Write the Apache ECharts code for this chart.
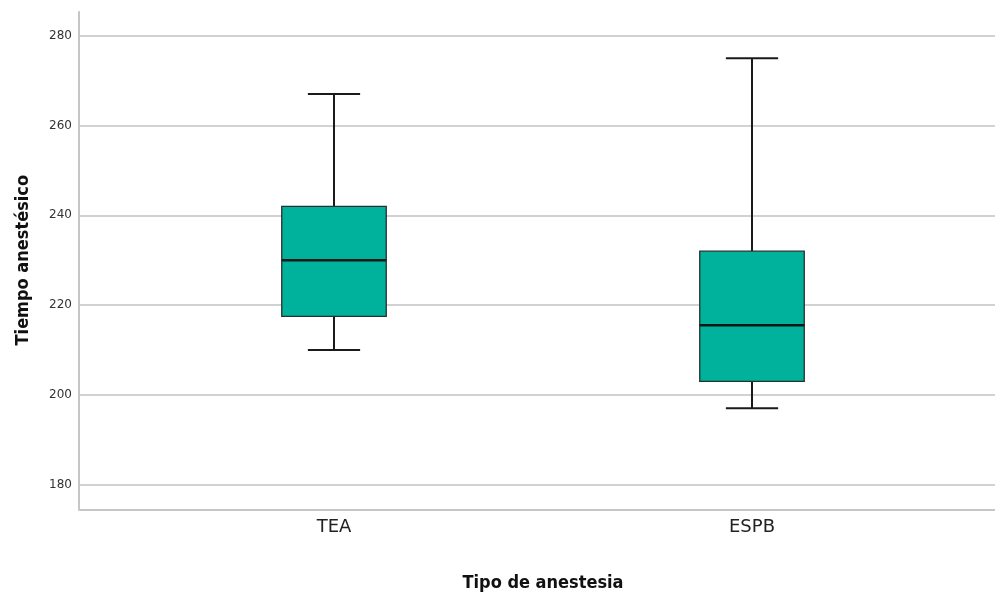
<!DOCTYPE html>
<html>
<head>
<meta charset="utf-8">
<script src="https://cdn.jsdelivr.net/npm/echarts@6/dist/echarts.min.js"></script>
<style>
html,body{margin:0;padding:0;background:#fff;}
#chart{width:995px;height:594px;}
</style>
</head>
<body>
<div id="chart"></div>
<script>
var categories = ['TEA', 'ESPB'];
var minVals    = [210, 197];
var q1Vals     = [217.5, 203];
var medianVals = [230, 215.5];
var q3Vals     = [242, 232];
var maxVals    = [267, 275];
var yTicks     = [180, 200, 220, 240, 260, 280];

var boxData = categories.map(function (c, i) {
  return [i, minVals[i], q1Vals[i], medianVals[i], q3Vals[i], maxVals[i]];
});

function renderItem(params, api) {
  var x = api.value(0);
  var pMin = api.coord([x, api.value(1)]);
  var pQ1 = api.coord([x, api.value(2)]);
  var pMed = api.coord([x, api.value(3)]);
  var pQ3 = api.coord([x, api.value(4)]);
  var pMax = api.coord([x, api.value(5)]);
  var bw = api.size([1, 0])[0] * 0.25;
  var half = bw / 2, cap = bw / 4;
  var cx = pMed[0];
  var lineStyle = { stroke: '#1a1a1a', lineWidth: 2 };
  return {
    type: 'group',
    children: [
      { type: 'line', shape: { x1: cx, y1: pQ3[1], x2: cx, y2: pMax[1] }, style: lineStyle },
      { type: 'line', shape: { x1: cx, y1: pQ1[1], x2: cx, y2: pMin[1] }, style: lineStyle },
      { type: 'line', shape: { x1: cx - cap, y1: pMax[1], x2: cx + cap, y2: pMax[1] }, style: lineStyle },
      { type: 'line', shape: { x1: cx - cap, y1: pMin[1], x2: cx + cap, y2: pMin[1] }, style: lineStyle },
      { type: 'rect', shape: { x: cx - half, y: pQ3[1], width: bw, height: pQ1[1] - pQ3[1] },
        style: { fill: '#00b29c', stroke: '#26302e', lineWidth: 1.3 } },
      { type: 'line', shape: { x1: cx - half, y1: pMed[1], x2: cx + half, y2: pMed[1] },
        style: { stroke: '#0c1a17', lineWidth: 2.5 } }
    ]
  };
}

var chart = echarts.init(document.getElementById('chart'), null, { renderer: 'canvas' });
chart.setOption({
  backgroundColor: '#ffffff',
  animation: false,
  grid: [
    { left: 79, top: 12, width: 916, height: 497.3, outerBoundsMode: 'none', containLabel: false },
    { left: 79, top: 35.7, width: 916, height: 449, outerBoundsMode: 'none', containLabel: false },
    { left: 125, top: 35.7, width: 836, height: 449, outerBoundsMode: 'none', containLabel: false }
  ],
  xAxis: [
    { gridIndex: 0, type: 'value', min: 0, max: 1,
      axisLine: { show: true, lineStyle: { color: '#c6c6c6', width: 2 } },
      axisTick: { show: false }, axisLabel: { show: false }, splitLine: { show: false } },
    { gridIndex: 1, type: 'value', min: 0, max: 1, show: false },
    { gridIndex: 2, type: 'category', data: categories,
      axisLine: { show: false }, axisTick: { show: false },
      axisLabel: { margin: 34, fontSize: 18, color: '#222', fontFamily: 'DejaVu Sans' },
      name: 'Tipo de anestesia', nameLocation: 'middle', nameGap: 90,
      nameTextStyle: { fontSize: 18, fontWeight: 'bold', color: '#111', fontFamily: 'DejaVu Sans Condensed, DejaVu Sans' } }
  ],
  yAxis: [
    { gridIndex: 0, type: 'value', min: 0, max: 1,
      axisLine: { show: true, lineStyle: { color: '#c6c6c6', width: 2 } },
      axisTick: { show: false }, axisLabel: { show: false }, splitLine: { show: false } },
    { gridIndex: 1, type: 'value', min: yTicks[0], max: yTicks[yTicks.length - 1], interval: 20,
      axisLine: { show: false }, axisTick: { show: false },
      axisLabel: { fontSize: 12, color: '#333', margin: 7, fontFamily: 'DejaVu Sans' },
      splitLine: { show: true, lineStyle: { color: '#d2d2d2', width: 2 } },
      name: 'Tiempo anestésico', nameLocation: 'middle', nameGap: 47, nameRotate: 90,
      nameTextStyle: { fontSize: 18, fontWeight: 'bold', color: '#111', fontFamily: 'DejaVu Sans Condensed, DejaVu Sans' } },
    { gridIndex: 2, type: 'value', min: yTicks[0], max: yTicks[yTicks.length - 1], show: false }
  ],
  series: [
    { type: 'custom', xAxisIndex: 2, yAxisIndex: 2, renderItem: renderItem,
      encode: { x: 0, y: [1, 2, 3, 4, 5] }, data: boxData }
  ]
});
</script>
</body>
</html>
